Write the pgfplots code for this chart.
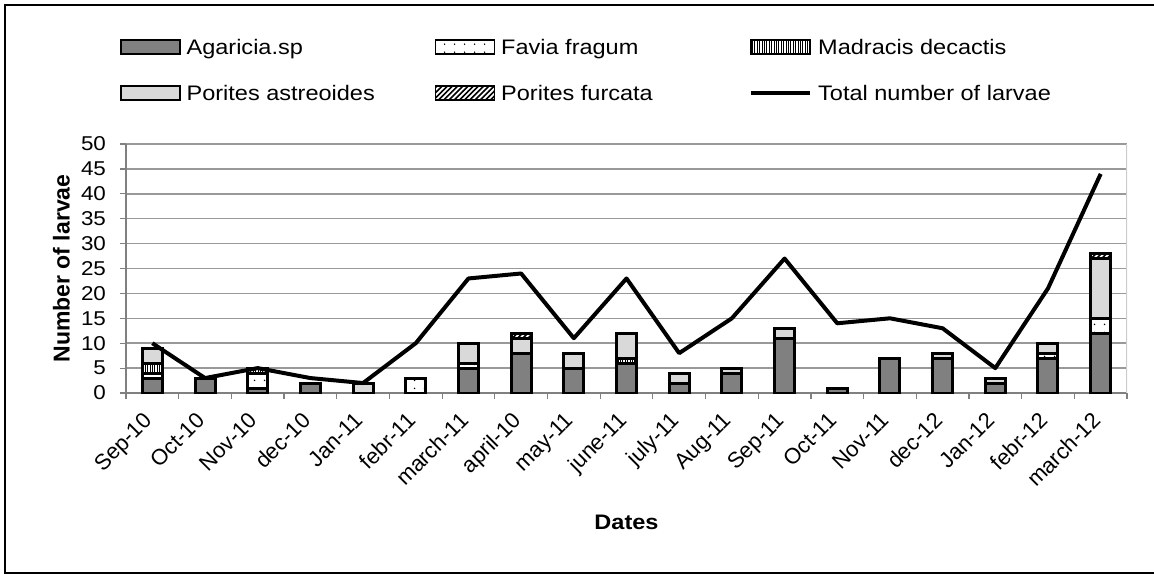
\documentclass[border=0pt]{standalone}
\usepackage{fontspec}
\setmainfont[FakeStretch=1.12]{Liberation Sans}
\newfontfamily\plainfont{Liberation Sans}
\usepackage{pgfplots}
\usepackage{pgfplotstable}
\pgfplotsset{compat=1.18}
\usetikzlibrary{patterns}

\pgfdeclarepatternformonly{sparsedots}{\pgfpointorigin}{\pgfpoint{5pt}{4pt}}{\pgfpoint{5pt}{4pt}}{\pgfpathcircle{\pgfpoint{2.5pt}{2pt}}{0.45pt}\pgfusepath{fill}}
\pgfdeclarepatternformonly{densevlines}{\pgfpoint{-0.1pt}{-0.1pt}}{\pgfpoint{1.3pt}{1.3pt}}{\pgfpoint{1.2pt}{1.2pt}}{\pgfsetlinewidth{0.5pt}\pgfpathmoveto{\pgfpoint{0.6pt}{-0.1pt}}\pgfpathlineto{\pgfpoint{0.6pt}{1.3pt}}\pgfusepath{stroke}}
\pgfdeclarepatternformonly{thicknelines}{\pgfpoint{-1pt}{-1pt}}{\pgfpoint{4pt}{4pt}}{\pgfpoint{2.6pt}{2.6pt}}{\pgfsetlinewidth{0.8pt}\pgfpathmoveto{\pgfpoint{0pt}{0pt}}\pgfpathlineto{\pgfpoint{2.7pt}{2.7pt}}\pgfusepath{stroke}}

\definecolor{agcol}{HTML}{808080}
\definecolor{astcol}{HTML}{D9D9D9}
\newcommand{\fs}{\fontsize{10}{12}\selectfont}
\newcommand{\fx}{\plainfont\fontsize{11}{13}\selectfont}
\newcommand{\fl}{\fontsize{10.5}{12.5}\selectfont}
\newcommand{\fb}{\fontsize{10.5}{12.5}\selectfont\bfseries}
\newcommand{\fy}{\plainfont\fontsize{11.5}{13.5}\selectfont\bfseries}

\pgfplotsset{
  barlegend/.style={legend image code/.code={\draw[##1, line width=0.8pt] (0pt,0pt) rectangle (29.5pt,7pt);}},
  linelegend/.style={legend image code/.code={\draw[##1] (0pt,3.5pt) -- (29.5pt,3.5pt);}},
}

\pgfplotstableread{
idx ag fav mad ast fur tot
0 3 1 2 3 0 10
1 3 0 0 0 0 3
2 1 3 1 0 0 5
3 2 0 0 0 0 3
4 0 0 0 2 0 2
5 0 3 0 0 0 10
6 5 1 0 4 0 23
7 8 0 0 3 1 24
8 5 0 0 3 0 11
9 6 0 1 5 0 23
10 2 0 0 2 0 8
11 4 0 0 1 0 15
12 11 0 0 2 0 27
13 1 0 0 0 0 14
14 7 0 0 0 0 15
15 7 0 0 1 0 13
16 2 0 0 1 0 5
17 7 1 0 2 0 21
18 12 3 0 12 1 44
}\datatable

\begin{document}
\begin{tikzpicture}
\useasboundingbox (0,0) rectangle (577pt,287.5pt);
\draw[line width=1pt] (590pt,285pt) -- (2.5pt,285pt) -- (2.5pt,1pt) -- (590pt,1pt);
\begin{axis}[
  at={(63pt,91pt)}, anchor=south west, scale only axis,
  width=500.5pt, height=124.5pt,
  ybar stacked, bar width=10pt,
  xmin=-0.5, xmax=18.5, ymin=0, ymax=50,
  xtick={0,...,18},
  xticklabels={Sep-10,Oct-10,Nov-10,dec-10,Jan-11,febr-11,march-11,april-10,may-11,june-11,july-11,Aug-11,Sep-11,Oct-11,Nov-11,dec-12,Jan-12,febr-12,march-12},
  minor xtick={-0.5,0.5,...,18.5},
  ytick={0,5,...,50}, minor ytick={0,5,...,50},
  major tick length=0pt, minor tick length=3pt, tick align=outside,
  minor tick style={gray, line width=0.6pt},
  ymajorgrids, grid style={color=gray!80, line width=0.75pt},
  axis x line*=bottom, axis y line*=left,
  x axis line style={gray, line width=0.6pt, -},
  y axis line style={gray, line width=0.6pt, -},
  /pgf/number format/assume math mode=true,
  tick label style={font=\fs},
  yticklabel style={xshift=-6.5pt},
  xticklabel style={xshift=-5pt, yshift=-4pt, rotate=45, anchor=north east, font=\fx},
  ylabel={Number of larvae}, xlabel={Dates},
  xlabel style={font=\fb, at={(axis description cs:0.5,-0.518)}, anchor=center},
  ylabel style={font=\fy, at={(axis description cs:-0.0644,0.5)}, anchor=center},
  legend columns=3,
  legend cell align=left,
  barlegend,
  legend style={at={(axis description cs:-0.006,1.4217)}, anchor=north west,
    draw=none, fill=none, inner sep=0pt, outer sep=0pt, font=\fl,
    row sep=13.5pt,
    /tikz/every odd column/.append style={column sep=3pt},
    /tikz/every even column/.append style={column sep=0pt},
    nodes={inner sep=0pt, text height=7.5pt, text depth=2pt, anchor=base west}},
]
\addplot[fill=agcol, draw=black, line width=1.5pt] table[x=idx, y=ag] {\datatable};
\addlegendentry{\makebox[124pt][l]{Agaricia.sp}}
\addplot[fill=white, postaction={pattern=sparsedots}, draw=black, line width=1.5pt] table[x=idx, y=fav] {\datatable};
\addlegendentry{\makebox[124pt][l]{Favia fragum}}
\addplot[fill=white, postaction={pattern=densevlines}, draw=black, line width=1.5pt] table[x=idx, y=mad] {\datatable};
\addlegendentry{\makebox[124pt][l]{Madracis decactis}}
\addplot[fill=astcol, draw=black, line width=1.5pt] table[x=idx, y=ast] {\datatable};
\addlegendentry{\makebox[124pt][l]{Porites astreoides}}
\addplot[fill=white, postaction={pattern=thicknelines}, draw=black, line width=1.5pt] table[x=idx, y=fur] {\datatable};
\addlegendentry{\makebox[124pt][l]{Porites furcata}}
\addlegendimage{linelegend, black, line width=2pt}
\addlegendentry{\makebox[124pt][l]{Total number of larvae}}
\draw[gray!40, line width=0.75pt] (rel axis cs:1,0) -- (rel axis cs:1,1);
\end{axis}
\begin{axis}[
  at={(63pt,91pt)}, anchor=south west, scale only axis,
  width=500.5pt, height=124.5pt,
  xmin=-0.5, xmax=18.5, ymin=0, ymax=50, hide axis,
]
\addplot[black, line width=2pt, line join=round, mark=none] table[x=idx, y=tot] {\datatable};
\end{axis}
\end{tikzpicture}
\end{document}
